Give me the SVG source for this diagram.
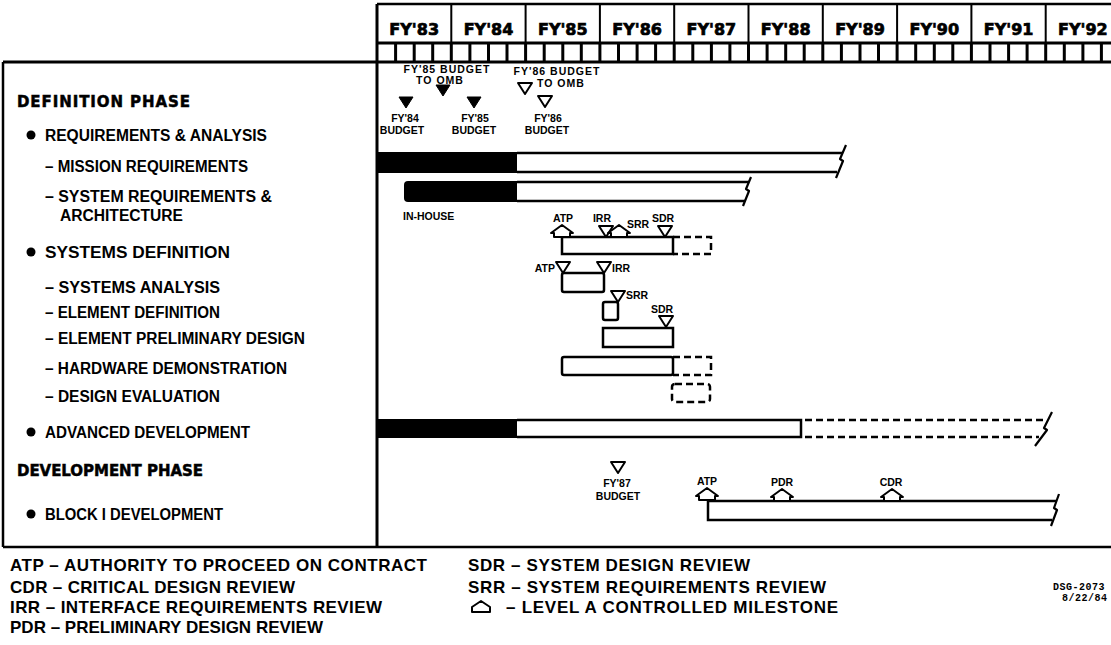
<svg xmlns="http://www.w3.org/2000/svg" width="1111" height="645" viewBox="0 0 1111 645">
<style>
.lbl{font-family:"Liberation Sans",Arial,sans-serif;font-weight:bold;font-size:16px;fill:#000}
.hd{font-family:"DejaVu Sans",Verdana,sans-serif;font-weight:bold;font-size:15px;fill:#000;stroke:#000;stroke-width:0.5}
.yr{font-family:"DejaVu Sans",Verdana,sans-serif;font-weight:bold;font-size:16px;fill:#000;stroke:#000;stroke-width:0.7;text-anchor:middle}
.sm{font-family:"Liberation Sans",Arial,sans-serif;font-weight:bold;font-size:10.5px;fill:#000}
.c{text-anchor:middle}
.e{text-anchor:end}
.top{font-family:"Liberation Sans",Arial,sans-serif;font-weight:bold;font-size:10.5px;letter-spacing:1px;fill:#000}
.lg{font-family:"Liberation Sans",Arial,sans-serif;font-weight:bold;font-size:17px;fill:#000}
.id{font-family:"Liberation Mono","Courier New",monospace;font-weight:bold;font-size:10px;letter-spacing:0.5px;fill:#000}
.ln{stroke:#000;stroke-width:2.5;fill:none}
.thk{stroke:#000;stroke-width:3;fill:none}
.thn{stroke:#000;stroke-width:2;fill:none}
.bar{fill:#fff;stroke:#000;stroke-width:2.5}
.dash{stroke:#000;stroke-width:2.5;fill:none;stroke-dasharray:7 4}
.blk{fill:#000}
.ms{fill:#fff;stroke:#000;stroke-width:2;stroke-linejoin:round}
.msf{fill:#000;stroke:#000;stroke-width:1}
.brk{stroke:#000;stroke-width:2.2;fill:none;stroke-linejoin:round}
</style>
<defs>
<polygon id="house" points="0,0 11,8 8,8 8,12 -8,12 -8,8 -11,8"/>
<polygon id="tri" points="-7,0 7,0 0,11"/>
</defs>
<rect x="0" y="0" width="1111" height="645" fill="#fff"/>

<g id="frame">
<path class="ln" d="M377,4 H1111"/>
<path class="thk" d="M377,43 H1111"/>
<path class="thk" d="M3,62 H1111"/>
<path class="ln" d="M3,62 V547 M3,547 H1111"/>
<path class="thk" d="M377,4 V547"/>
<path class="thn" d="M451.3,4V43 M525.6,4V43 M599.9,4V43 M674.2,4V43 M748.5,4V43 M822.8,4V43 M897.1,4V43 M971.4,4V43 M1045.7,4V43"/>
<path class="thk" d="M395.6,43V62 M414.2,43V62 M432.7,43V62 M451.3,43V62 M469.9,43V62 M488.5,43V62 M507,43V62 M525.6,43V62 M544.2,43V62 M562.8,43V62 M581.3,43V62 M599.9,43V62 M618.5,43V62 M637.1,43V62 M655.6,43V62 M674.2,43V62 M692.8,43V62 M711.4,43V62 M729.9,43V62 M748.5,43V62 M767.1,43V62 M785.7,43V62 M804.2,43V62 M822.8,43V62 M841.4,43V62 M860,43V62 M878.5,43V62 M897.1,43V62 M915.7,43V62 M934.3,43V62 M952.8,43V62 M971.4,43V62 M990,43V62 M1008.6,43V62 M1027.1,43V62 M1045.7,43V62 M1064.3,43V62 M1082.9,43V62 M1101.4,43V62"/>
</g>

<g id="years">
<text class="yr" x="414.2" y="35">FY'83</text>
<text class="yr" x="488.5" y="35">FY'84</text>
<text class="yr" x="562.8" y="35">FY'85</text>
<text class="yr" x="637.1" y="35">FY'86</text>
<text class="yr" x="711.4" y="35">FY'87</text>
<text class="yr" x="785.7" y="35">FY'88</text>
<text class="yr" x="860" y="35">FY'89</text>
<text class="yr" x="934.3" y="35">FY'90</text>
<text class="yr" x="1008.6" y="35">FY'91</text>
<text class="yr" x="1082.9" y="35">FY'92</text>
</g>

<g id="labels">
<text class="hd" x="17" y="107" textLength="173">DEFINITION PHASE</text>
<g id="lbl-req"><circle cx="31" cy="135" r="4.5"/><text class="lbl" x="45" y="140.5" textLength="222" lengthAdjust="spacingAndGlyphs">REQUIREMENTS &amp; ANALYSIS</text></g>
<text class="lbl" x="45" y="171.5" textLength="203" lengthAdjust="spacingAndGlyphs">– MISSION REQUIREMENTS</text>
<text class="lbl" x="45" y="201.5" textLength="227" lengthAdjust="spacingAndGlyphs">– SYSTEM REQUIREMENTS &amp;</text>
<text class="lbl" x="60" y="220.5" textLength="123" lengthAdjust="spacingAndGlyphs">ARCHITECTURE</text>
<g id="lbl-sysdef"><circle cx="31" cy="252" r="4.5"/><text class="lbl" x="45" y="257.5" textLength="185" lengthAdjust="spacingAndGlyphs">SYSTEMS DEFINITION</text></g>
<text class="lbl" x="45" y="292.5" textLength="175" lengthAdjust="spacingAndGlyphs">– SYSTEMS ANALYSIS</text>
<text class="lbl" x="45" y="317.5" textLength="175" lengthAdjust="spacingAndGlyphs">– ELEMENT DEFINITION</text>
<text class="lbl" x="45" y="343.5" textLength="260" lengthAdjust="spacingAndGlyphs">– ELEMENT PRELIMINARY DESIGN</text>
<text class="lbl" x="45" y="373.5" textLength="242" lengthAdjust="spacingAndGlyphs">– HARDWARE DEMONSTRATION</text>
<text class="lbl" x="45" y="401.5" textLength="175" lengthAdjust="spacingAndGlyphs">– DESIGN EVALUATION</text>
<g id="lbl-adv"><circle cx="31" cy="432" r="4.5"/><text class="lbl" x="45" y="437.5" textLength="205" lengthAdjust="spacingAndGlyphs">ADVANCED DEVELOPMENT</text></g>
<text class="hd" x="17" y="475.5" textLength="186">DEVELOPMENT PHASE</text>
<g id="lbl-block"><circle cx="31" cy="514" r="4.5"/><text class="lbl" x="45" y="519.5" textLength="178" lengthAdjust="spacingAndGlyphs">BLOCK I DEVELOPMENT</text></g>
</g>

<g id="budget-milestones">
<text class="top c" x="447" y="73">FY'85 BUDGET</text>
<text class="top c" x="440" y="84">TO OMB</text>
<use href="#tri" x="443" y="85" class="msf"/>
<use href="#tri" x="406" y="97" class="msf"/>
<use href="#tri" x="474" y="97" class="msf"/>
<text class="sm c" x="405" y="122">FY'84</text>
<text class="sm c" x="402" y="134">BUDGET</text>
<text class="sm c" x="475" y="122">FY'85</text>
<text class="sm c" x="474" y="134">BUDGET</text>
<text class="top c" x="557" y="75">FY'86 BUDGET</text>
<use href="#tri" x="525" y="83" class="ms"/>
<text class="top" x="537" y="87">TO OMB</text>
<use href="#tri" x="545" y="96" class="ms"/>
<text class="sm c" x="548" y="122">FY'86</text>
<text class="sm c" x="547" y="134">BUDGET</text>
</g>

<g id="row-mission">
<rect class="blk" x="377" y="152" width="140" height="21"/>
<path class="ln" d="M517,153 H842 M517,172 H837"/>
<path class="brk" d="M846,145 L840,159 L843,161 L836,178"/>
</g>

<g id="row-sysreq">
<path class="blk" d="M408,181 H517 V202 H408 Q404,202 404,198 V185 Q404,181 408,181 Z"/>
<path class="ln" d="M517,182 H749 M517,201 H745"/>
<path class="brk" d="M751,177 L746,189 L749,191 L743,206"/>
<text class="sm" x="403" y="220">IN-HOUSE</text>
</g>

<g id="row-sysdef">
<rect class="bar" x="562" y="237" width="111" height="17"/>
<path class="dash" d="M673,237 H711 V254 H673"/>
<use href="#house" x="562" y="225" class="ms"/>
<use href="#tri" x="606" y="226" class="ms"/>
<use href="#house" x="619" y="225" class="ms"/>
<use href="#tri" x="665" y="226" class="ms"/>
<text class="sm c" x="563" y="222">ATP</text>
<text class="sm c" x="602" y="222">IRR</text>
<text class="sm" x="627" y="228">SRR</text>
<text class="sm c" x="663" y="222">SDR</text>
</g>

<g id="row-sysanalysis">
<rect class="bar" x="562" y="273" width="42" height="19" rx="2"/>
<use href="#tri" x="563" y="262" class="ms"/>
<use href="#tri" x="604" y="262" class="ms"/>
<text class="sm e" x="555" y="272">ATP</text>
<text class="sm" x="612" y="272">IRR</text>
</g>

<g id="row-elemdef">
<rect class="bar" x="603" y="302" width="15" height="18" rx="2"/>
<use href="#tri" x="618" y="291" class="ms"/>
<text class="sm" x="626" y="299">SRR</text>
</g>

<g id="row-elemprelim">
<rect class="bar" x="603" y="328" width="70" height="19"/>
<use href="#tri" x="666" y="316" class="ms"/>
<text class="sm c" x="662" y="313">SDR</text>
</g>

<g id="row-hardware">
<rect class="bar" x="562" y="357" width="111" height="18" rx="2"/>
<path class="dash" d="M673,357 H711 V375 H673"/>
</g>

<g id="row-designeval">
<rect class="dash" x="672" y="384" width="38" height="18" rx="3"/>
</g>

<g id="row-advanced">
<rect class="blk" x="377" y="419" width="140" height="19"/>
<path class="ln" d="M517,420 H801 V437 H517"/>
<path class="dash" d="M805,420 H1046 M805,437 H1039"/>
<path class="brk" d="M1052,412 L1044,428 L1047,430 L1035,446"/>
</g>

<g id="row-block">
<use href="#tri" x="618" y="462" class="ms"/>
<text class="sm c" x="617" y="487">FY'87</text>
<text class="sm c" x="618" y="500">BUDGET</text>
<path class="ln" d="M1057,501 H708 V520 H1052"/>
<path class="brk" d="M1059,494 L1054,508 L1057,510 L1051,526"/>
<use href="#house" x="707" y="488" class="ms"/>
<use href="#house" x="782" y="489" class="ms"/>
<use href="#house" x="892" y="489" class="ms"/>
<text class="sm c" x="707" y="485">ATP</text>
<text class="sm c" x="782" y="486">PDR</text>
<text class="sm c" x="891" y="486">CDR</text>
</g>

<g id="legend">
<text class="lg" x="10" y="571" textLength="417">ATP – AUTHORITY TO PROCEED ON CONTRACT</text>
<text class="lg" x="10" y="593" textLength="285">CDR – CRITICAL DESIGN REVIEW</text>
<text class="lg" x="10" y="613" textLength="372">IRR – INTERFACE REQUIREMENTS REVIEW</text>
<text class="lg" x="10" y="633" textLength="313">PDR – PRELIMINARY DESIGN REVIEW</text>
<text class="lg" x="468" y="571" textLength="282">SDR – SYSTEM DESIGN REVIEW</text>
<text class="lg" x="468" y="593" textLength="358">SRR – SYSTEM REQUIREMENTS REVIEW</text>
<polygon class="ms" points="481,601 490,607 490,612 472,612 472,607"/>
<text class="lg" x="506" y="613" textLength="332">– LEVEL A CONTROLLED MILESTONE</text>
<text class="id" x="1053" y="590">DSG-2073</text>
<text class="id" x="1062" y="601">8/22/84</text>
</g>
</svg>
